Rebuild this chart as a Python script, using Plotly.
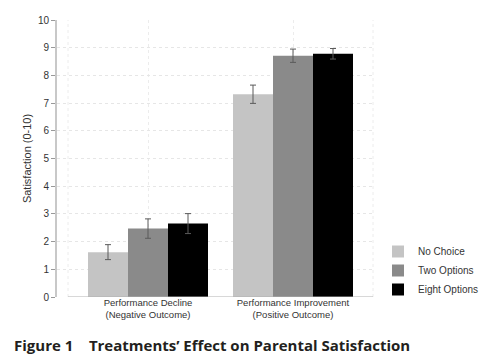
import plotly.graph_objects as go

categories = ["Performance Decline<br>(Negative Outcome)", "Performance Improvement<br>(Positive Outcome)"]
series_names = ["No Choice", "Two Options", "Eight Options"]
no_choice = [1.62, 7.32]
two_options = [2.47, 8.71]
eight_options = [2.65, 8.78]
no_choice_err = [0.27, 0.33]
two_options_err = [0.35, 0.24]
eight_options_err = [0.36, 0.19]
y_ticks = [0, 1, 2, 3, 4, 5, 6, 7, 8, 9, 10]

colors = ["#c4c4c4", "#8a8a8a", "#000000"]
values = [no_choice, two_options, eight_options]
errors = [no_choice_err, two_options_err, eight_options_err]

fig = go.Figure()
for name, vals, errs, col in zip(series_names, values, errors, colors):
    fig.add_trace(go.Bar(
        x=categories, y=vals, name=name,
        marker=dict(color=col, line=dict(width=0)),
        error_y=dict(type="data", array=errs, visible=True, color="#5a5a5a", thickness=1, width=3),
    ))

W, H = 480, 362
L, R, T, B = 57, 107, 20, 65
pw = W - L - R
ph = H - T - B
fig.update_layout(
    width=W, height=H,
    margin=dict(l=L, r=R, t=T, b=B, autoexpand=False),
    paper_bgcolor="white", plot_bgcolor="white",
    barmode="group", bargap=0.1724, bargroupgap=0,
    font=dict(family="Liberation Sans, Arial, sans-serif", color="#333333"),
    showlegend=True,
    legend=dict(x=(378 - L) / pw, y=(H - B - 237) / ph, xanchor="left", yanchor="top",
                font=dict(size=10, color="#333333"), tracegroupgap=0,
                itemwidth=30, bgcolor="rgba(0,0,0,0)"),
)
fig.update_xaxes(
    range=[-0.6276, 1.5517], showline=False, showgrid=True, automargin=False,
    gridcolor="#ececec", griddash="dot", gridwidth=1,
    tickfont=dict(size=9.5, color="#333333"), ticks="", zeroline=False,
    ticklabelstandoff=-2,
)
fig.update_yaxes(
    range=[0, 10], tickvals=y_ticks, showline=True, linecolor="#c8c8c8", linewidth=2,
    ticks="outside", ticklen=4, tickcolor="#999999", tickwidth=1, automargin=False,
    showgrid=True, gridcolor="#e6e6e6", griddash="dot", gridwidth=1,
    zeroline=False, tickfont=dict(size=10, color="#333333"),
    title=dict(text="Satisfaction (0-10)", font=dict(size=11, color="#333333"), standoff=4),
)
x_left = (68 - L) / pw
# bottom baseline and outer vertical gridlines
fig.add_shape(type="line", xref="x domain", yref="y", x0=x_left, x1=1, y0=0, y1=0,
              line=dict(color="#b0b0b0", width=1))
for xv in [x_left, 1]:
    fig.add_shape(type="line", xref="x domain", yref="y domain", x0=xv, x1=xv, y0=0, y1=1,
                  line=dict(color="#ececec", width=1, dash="dot"), layer="below")
fig.add_annotation(
    text="Figure 1    Treatments’ Effect on Parental Satisfaction",
    xref="paper", yref="paper", x=(12 - L) / pw, y=-(345 - (H - B)) / ph,
    xanchor="left", yanchor="middle", showarrow=False,
    font=dict(family="Open Sans, sans-serif", size=15, color="#231f20", weight="bold"),
)
fig.write_html("out.html", config={"displayModeBar": False},
               post_script="document.body.style.margin='0';document.body.style.overflow='hidden';")
